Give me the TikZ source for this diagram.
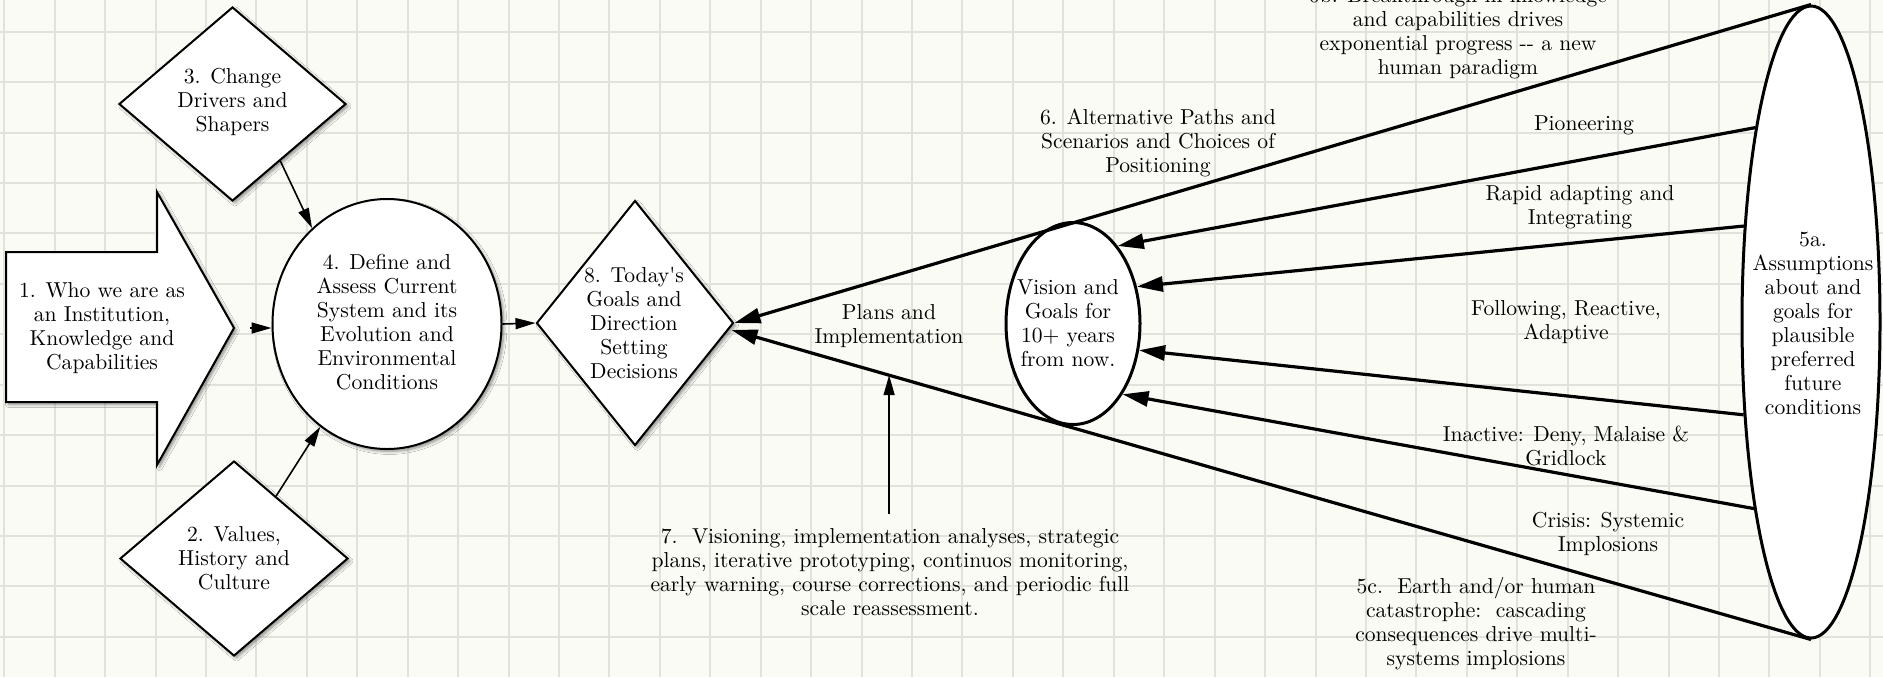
\documentclass[tikz,border=0pt]{standalone}
\usetikzlibrary{shapes.geometric,arrows.meta,shadows.blur,calc}
\newcommand\dgfont{\fontsize{10.8}{12}\selectfont}
\definecolor{bgcol}{RGB}{251,251,246}
\definecolor{gridcol}{RGB}{226,226,221}
\begin{document}
\begin{tikzpicture}[x=0.5pt,y=-0.5pt,
  txt/.style={align=center,inner sep=0pt,font=\dgfont},
  box/.style={draw=black,line width=1pt,fill=white},
  shad/.style={blur shadow={shadow xshift=1.2pt,shadow yshift=-1.2pt,shadow blur radius=1.5pt,shadow blur steps=6,shadow opacity=45}},
  bigell/.style={draw=black,line width=1.5pt,fill=white,ellipse,inner sep=0pt},
  thinarrow/.style={draw=black,line width=0.8pt,-{Triangle[length=10pt,width=5.5pt]}},
  thickarrow/.style={draw=black,line width=1.6pt,-{Triangle[length=13pt,width=7.5pt]}},
  gridline/.style={draw=gridcol,line width=1pt}]
\fill[bgcol] (0,0) rectangle (1883,677);
\useasboundingbox (0,0) rectangle (1883,677);
\foreach \i in {0,...,37} \draw[gridline] ({4.3+50.43*\i},0) -- ({4.3+50.43*\i},677);
\foreach \j in {0,...,12} \draw[gridline] (0,{31.7+50.43*\j}) -- (1883,{31.7+50.43*\j});

% 1. block arrow
\draw[box,shad] (6,252) -- (157,252) -- (157,192) -- (234,328) -- (157,465) -- (157,402) -- (6,402) -- cycle;
\coordinate (tip1) at (234,328);
\node[txt] (n1) at (102,328) {1. Who we are as\\an Institution,\\Knowledge and\\Capabilities};

% 4. ellipse
\node[box,shad,ellipse,minimum width=114.5pt,minimum height=125pt,inner sep=0pt] (c4) at (387,324) {};
\node[txt] (t4) at (387,322) {4. Define and\\Assess Current\\System and its\\Evolution and\\Environmental\\Conditions};

% 3. diamond
\node[box,shad,diamond,minimum width=113.5pt,minimum height=97pt,inner sep=0pt] (d3) at (232.5,104) {};
\node[txt] (t3) at (232.5,102) {3. Change\\Drivers and\\Shapers};

% 2. diamond
\node[box,shad,diamond,minimum width=114pt,minimum height=97.5pt,inner sep=0pt] (d2) at (234,558.5) {};
\node[txt] (t2) at (234,558) {2. Values,\\History and\\Culture};

% 8. diamond
\node[box,shad,diamond,minimum width=98.5pt,minimum height=122.5pt,inner sep=0pt] (d8) at (635,323) {};
\node[txt] (t8) at (634,323) {8. Today\textquotesingle s\\Goals and\\Direction\\Setting\\Decisions};

% vision ellipse
\node[bigell,minimum width=67pt,minimum height=101pt] (vis) at (1073,323.5) {};
\node[txt] (tvis) at (1068,323) {Vision and\\Goals for\\10+ years\\from now.};

% 5a ellipse
\node[bigell,minimum width=69pt,minimum height=316pt] (a5) at (1811,322) {};
\node[txt] (t5a) at (1813,323) {5a.\\Assumptions\\about and\\goals for\\plausible\\preferred\\future\\conditions};

% small connectors
\draw[thinarrow,shorten <=8pt] (tip1) -- (tip1 -| c4.west);
\draw[thinarrow] (d3.-50.7) -- (c4.128);
\draw[thinarrow] (d2.56.3) -- (c4.237.5);
\draw[thinarrow] (c4.east) -- (d8.west);

% cone
\draw[thickarrow] (a5.north) -- (d8.east);
\draw[thickarrow] (a5.south) -- coordinate[pos=0.854] (p7) ([xshift=-1.5pt,yshift=-3.5pt]d8.east);

% scenario arrows
\draw[thickarrow] (a5.106.4) -- (vis.60);
\draw[thickarrow] (a5.125.4) -- (vis.30.6);
\draw[thickarrow] (a5.234.1) -- (vis.-22);
\draw[thickarrow] (a5.253.7) -- (vis.-55.8);

% 7
\node[txt] (t7) at (890,572) {7.\ \ Visioning, implementation analyses, strategic\\plans, iterative prototyping, continuos monitoring,\\early warning, course corrections, and periodic full\\scale reassessment.};
\coordinate (s7) at ([yshift=7pt]t7.north);
\draw[thinarrow] (p7 |- s7) -- (p7);

% labels
\node[txt] (lplans) at (889,326) {Plans and\\Implementation};
\node[txt] (l6b) at (1458,33) {6b. Breakthrough in knowledge\\and capabilities drives\\exponential progress -{}- a new\\human paradigm};
\node[txt] (l6) at (1158,143) {6. Alternative Paths and\\Scenarios and Choices of\\Positioning};
\node[txt] (lpio) at (1584,125) {Pioneering};
\node[txt] (lrap) at (1580,207) {Rapid adapting and\\Integrating};
\node[txt] (lfol) at (1566,322) {Following, Reactive,\\Adaptive};
\node[txt] (lina) at (1566,446) {Inactive: Deny, Malaise \&\\Gridlock};
\node[txt] (lcri) at (1608,534) {Crisis: Systemic\\Implosions};
\node[txt] (l5c) at (1476,624) {5c.\ \ Earth and/or human\\catastrophe:\ \ cascading\\consequences drive multi-\\systems implosions};
\end{tikzpicture}
\end{document}
